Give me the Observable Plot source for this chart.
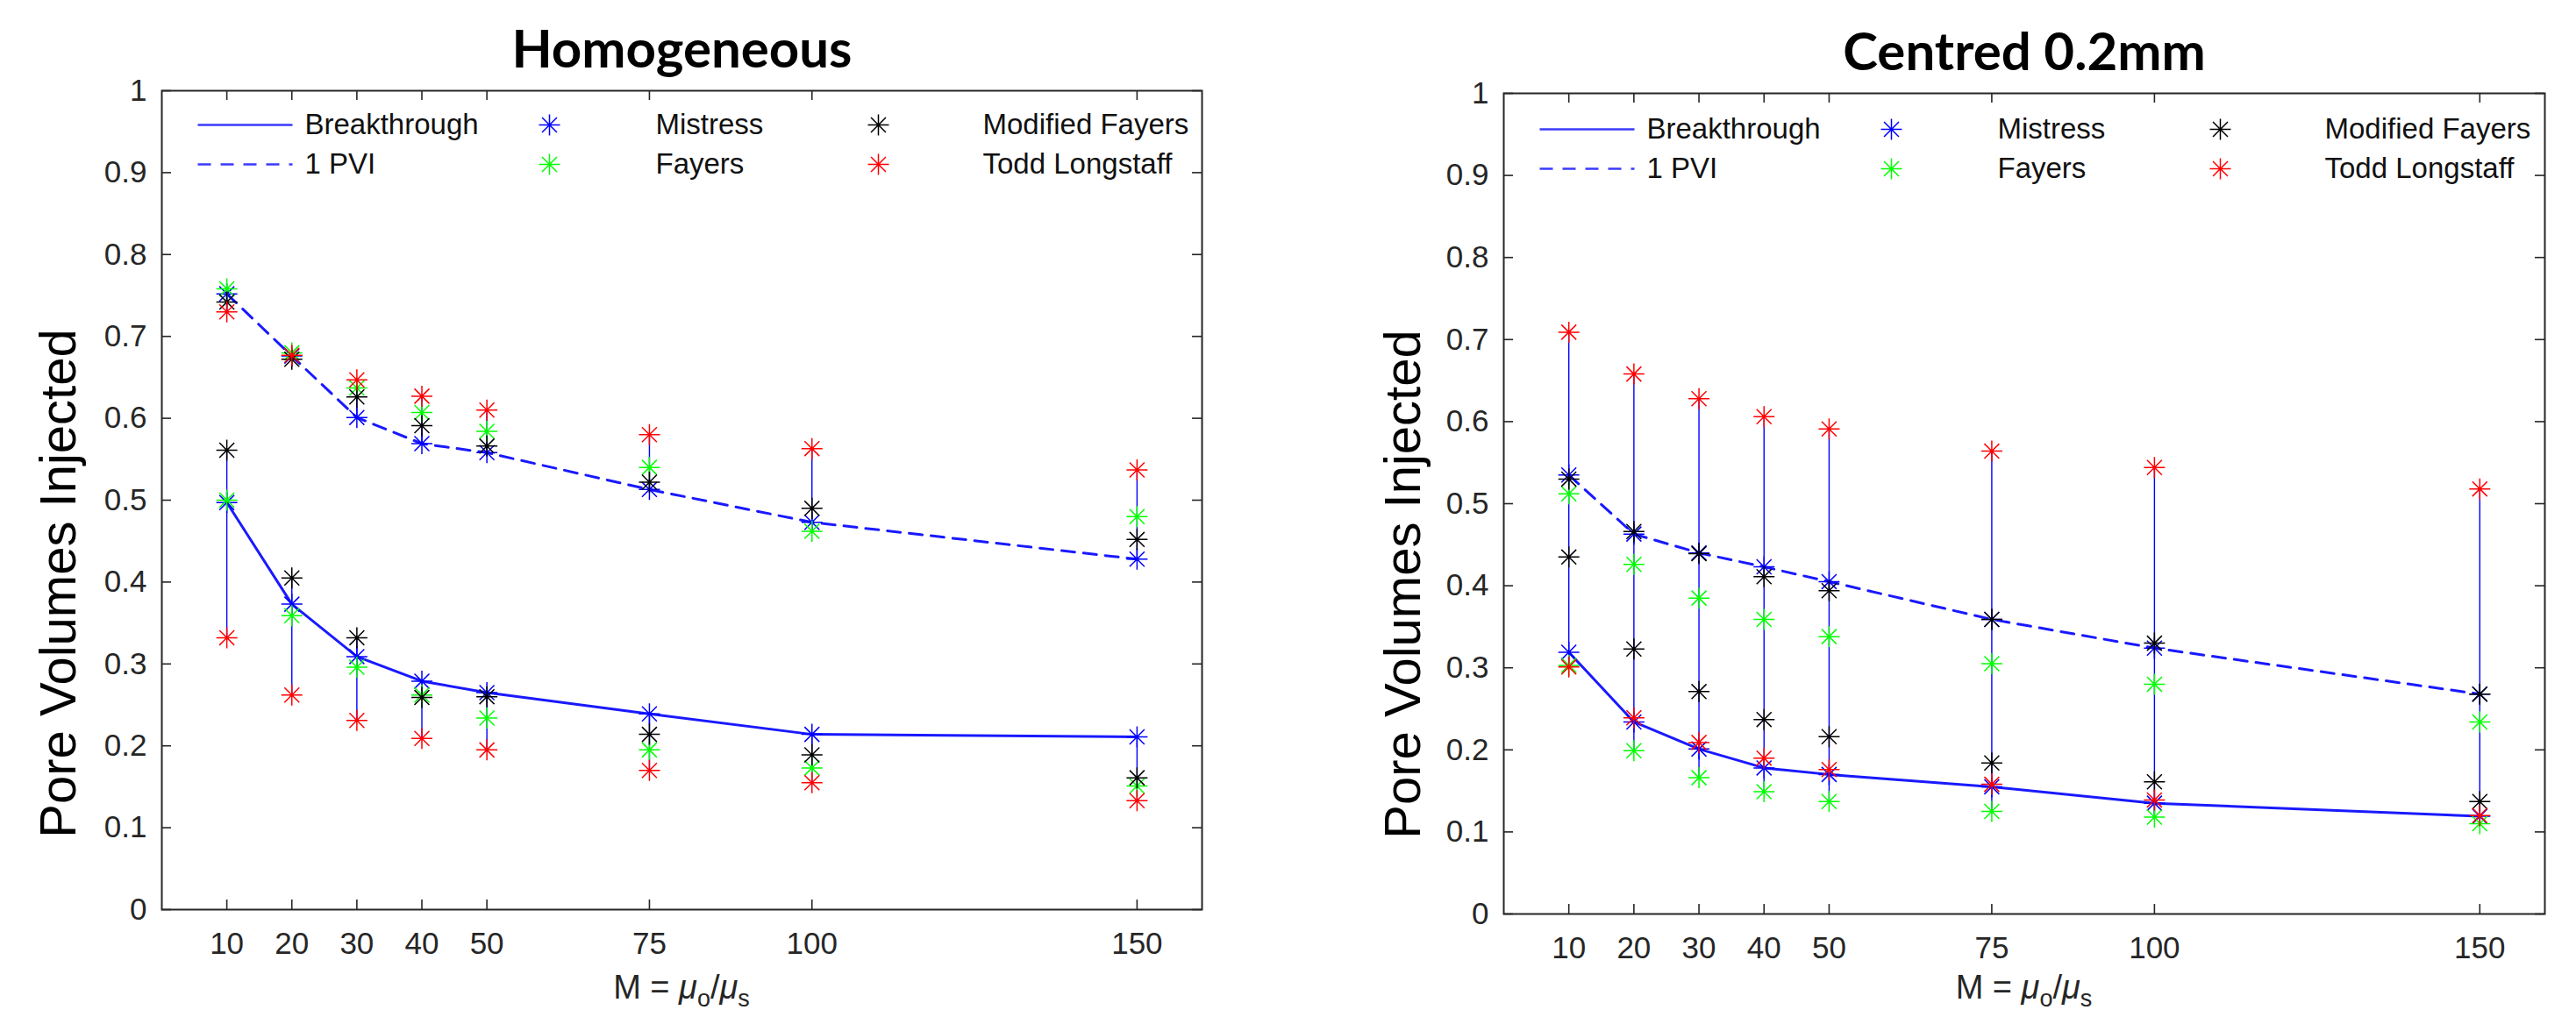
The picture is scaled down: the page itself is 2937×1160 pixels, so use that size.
<!DOCTYPE html>
<html>
<head>
<meta charset="utf-8">
<script src="https://cdn.jsdelivr.net/npm/d3@7"></script>
<script src="https://cdn.jsdelivr.net/npm/@observablehq/plot@0.6"></script>
<style>
  html, body { margin: 0; padding: 0; background: #ffffff; }
  #wrap { position: relative; width: 2937px; height: 1160px; overflow: hidden; background: #ffffff; }
  #wrap svg { position: absolute; top: 0; }
</style>
</head>
<body>
<div id="wrap"></div>
<script>
// ---------------- data ----------------
const M = [10, 20, 30, 40, 50, 75, 100, 150];
const xTicks = [10, 20, 30, 40, 50, 75, 100, 150];
const yTicks = [0, 0.1, 0.2, 0.3, 0.4, 0.5, 0.6, 0.7, 0.8, 0.9, 1];
const models = ["Mistress", "Fayers", "Modified Fayers", "Todd Longstaff"];
const legendLabels = ["Breakthrough", "1 PVI", "Mistress", "Fayers", "Modified Fayers", "Todd Longstaff"];
const panelTitles = ["Homogeneous", "Centred 0.2mm"];
const yLabel = "Pore Volumes Injected";

// Homogeneous - breakthrough
const homBtMistress  = [0.497, 0.373, 0.309, 0.279, 0.265, 0.239, 0.214, 0.211];
const homBtFayers    = [0.500, 0.359, 0.296, 0.262, 0.234, 0.195, 0.173, 0.151];
const homBtModFayers = [0.561, 0.405, 0.332, 0.259, 0.260, 0.214, 0.189, 0.161];
const homBtTodd      = [0.332, 0.262, 0.231, 0.209, 0.195, 0.170, 0.155, 0.133];
// Homogeneous - 1 PVI
const homPviMistress  = [0.752, 0.676, 0.601, 0.569, 0.558, 0.513, 0.473, 0.428];
const homPviFayers    = [0.758, 0.680, 0.637, 0.607, 0.584, 0.540, 0.462, 0.480];
const homPviModFayers = [0.742, 0.672, 0.626, 0.591, 0.566, 0.522, 0.490, 0.452];
const homPviTodd      = [0.730, 0.677, 0.647, 0.627, 0.610, 0.580, 0.563, 0.537];

// Centred 0.2mm - breakthrough
const cenBtMistress  = [0.319, 0.234, 0.201, 0.178, 0.170, 0.155, 0.135, 0.119];
const cenBtFayers    = [0.303, 0.199, 0.166, 0.149, 0.137, 0.125, 0.118, 0.110];
const cenBtModFayers = [0.435, 0.323, 0.271, 0.237, 0.216, 0.184, 0.161, 0.137];
const cenBtTodd      = [0.301, 0.239, 0.209, 0.190, 0.176, 0.158, 0.139, 0.120];
// Centred 0.2mm - 1 PVI
const cenPviMistress  = [0.535, 0.463, 0.440, 0.423, 0.405, 0.359, 0.324, 0.268];
const cenPviFayers    = [0.512, 0.426, 0.385, 0.359, 0.338, 0.305, 0.280, 0.234];
const cenPviModFayers = [0.530, 0.466, 0.439, 0.411, 0.394, 0.359, 0.330, 0.268];
const cenPviTodd      = [0.709, 0.658, 0.628, 0.606, 0.591, 0.564, 0.544, 0.518];

// ---------------- styles ----------------
const BLUE = "#0000ff";
const modelColors = {"Mistress": "#0000ff", "Fayers": "#00ff00", "Modified Fayers": "#000000", "Todd Longstaff": "#ff0000"};
const AXIS = "#262626";
const FONT = "'Liberation Sans', Arial, Helvetica, sans-serif";
const H = 1160;

// MATLAB-like '*' marker (plus + cross)
const star8 = {
  draw(ctx, size) {
    const r = Math.sqrt(size / Math.PI);
    const d = r * Math.SQRT1_2;
    ctx.moveTo(-r, 0); ctx.lineTo(r, 0);
    ctx.moveTo(0, -r); ctx.lineTo(0, r);
    ctx.moveTo(-d, -d); ctx.lineTo(d, d);
    ctx.moveTo(-d, d); ctx.lineTo(d, -d);
  }
};
const hline = len => ({ draw(ctx) { ctx.moveTo(-len / 2, 0); ctx.lineTo(len / 2, 0); } });

function buildRows(series) {
  const rows = [];
  for (const s of series) s.values.forEach((v, i) => rows.push({M: M[i], value: v, model: s.model, group: s.group}));
  return rows;
}

function panel(cfg) {
  const rows = buildRows(cfg.series);
  const groupKey = cfg.spanAll ? (() => "all") : (d => d.group);
  const ranges = d3.flatRollup(rows, v => [d3.min(v, d => d.value), d3.max(v, d => d.value)], groupKey, d => d.M)
    .map(([group, m, [lo, hi]]) => ({group, M: m, lo, hi}));
  const innerW = cfg.width - cfg.ml - cfg.mr;
  const innerH = H - cfg.mt - cfg.mb;

  const marks = [
    Plot.ruleX(ranges, {x: "M", y1: "lo", y2: "hi", stroke: BLUE, strokeWidth: 1.4}),
    Plot.line(rows.filter(d => d.model === "Mistress" && d.group === "bt"), {x: "M", y: "value", stroke: BLUE, strokeWidth: 3, strokeOpacity: 0.9}),
    Plot.line(rows.filter(d => d.model === "Mistress" && d.group === "pvi"), {x: "M", y: "value", stroke: BLUE, strokeWidth: 3, strokeOpacity: 0.9, strokeDasharray: "15,10"}),
  ];
  for (const m of models) {
    marks.push(Plot.dot(rows.filter(d => d.model === m), {x: "M", y: "value", symbol: star8, r: 12, fill: "none", stroke: modelColors[m], strokeWidth: 1.5}));
  }
  // frame and inward ticks (box on)
  marks.push(
    Plot.frame({stroke: AXIS, strokeWidth: 2}),
    Plot.tickX(xTicks, {x: d => d, insetTop: innerH - 11, stroke: AXIS, strokeWidth: 1.6}),
    Plot.tickX(xTicks, {x: d => d, insetBottom: innerH - 11, stroke: AXIS, strokeWidth: 1.6}),
    Plot.tickY(yTicks, {y: d => d, insetRight: innerW - 11, stroke: AXIS, strokeWidth: 1.6}),
    Plot.tickY(yTicks, {y: d => d, insetLeft: innerW - 11, stroke: AXIS, strokeWidth: 1.6}),
    Plot.axisX(xTicks, {anchor: "bottom", tickSize: 0, tickPadding: 26, fontSize: 35, color: AXIS, label: null, tickFormat: d => String(d)}),
    Plot.axisY(yTicks, {anchor: "left", tickSize: 0, tickPadding: 17, fontSize: 35, color: AXIS, label: null, tickFormat: d => d3.format("~g")(d)})
  );
  // title
  marks.push(Plot.text([cfg.title], {frameAnchor: "top", dy: -69, lineAnchor: "top", fontSize: 60, fontWeight: 700, fontFamily: "Lato, 'Open Sans', sans-serif", fill: "#000"}));
  // y label
  marks.push(Plot.text([yLabel], {frameAnchor: "left", rotate: -90, dx: cfg.ylabDx, dy: cfg.ylabDy, lineAnchor: "bottom", textAnchor: "middle", fontSize: 58, fill: "#000"}));
  // legend (3 columns x 2 rows inside the axes)
  const colX = [0, 401, 776];
  const rowY = [cfg.legTop, cfg.legTop + 45];
  legendLabels.forEach((lab, i) => {
    const col = Math.floor(i / 2), row = i % 2;
    const sx = colX[col] + (col === 0 ? 95 : 41);
    const tx = colX[col] + 163 - (col === 2 ? 3 : col === 1 ? 1 : 0);
    if (col === 0) {
      marks.push(Plot.dot([lab], {frameAnchor: "top-left", dx: sx, dy: rowY[row], symbol: hline(108), r: 1, fill: "none", stroke: "#3a3aff", strokeWidth: 2.6, strokeDasharray: row === 1 ? "15,11" : null}));
    } else {
      marks.push(Plot.dot([lab], {frameAnchor: "top-left", dx: sx, dy: rowY[row], symbol: star8, r: 12, fill: "none", stroke: modelColors[lab], strokeWidth: 1.5}));
    }
    marks.push(Plot.text([lab], {frameAnchor: "top-left", dx: tx, dy: rowY[row], textAnchor: "start", lineAnchor: "middle", fontSize: 33, fill: "#111"}));
  });

  const svg = Plot.plot({
    width: cfg.width, height: H,
    marginLeft: cfg.ml, marginRight: cfg.mr, marginTop: cfg.mt, marginBottom: cfg.mb,
    x: {domain: [0, 160], axis: null, label: null},
    y: {domain: [0, 1], axis: null, label: null},
    style: {fontFamily: FONT, background: "transparent", overflow: "visible", color: AXIS},
    marks
  });
  svg.style.left = cfg.left + "px";

  // x label with italic mu and subscripts
  const cx = cfg.ml + innerW / 2;
  const t = d3.select(svg).append("text")
    .attr("x", cx).attr("y", H - cfg.mb + cfg.xlabDy)
    .attr("text-anchor", "middle").attr("fill", AXIS)
    .style("font-family", FONT).style("font-size", "38px");
  t.append("tspan").text("M = ");
  t.append("tspan").style("font-style", "italic").text("\u03bc");
  t.append("tspan").attr("dy", 9).style("font-size", "27px").text("o");
  t.append("tspan").attr("dy", -9).text("/");
  t.append("tspan").style("font-style", "italic").text("\u03bc");
  t.append("tspan").attr("dy", 9).style("font-size", "27px").text("s");
  return svg;
}

const wrap = document.getElementById("wrap");
wrap.appendChild(panel({
  left: 0, width: 1468, ml: 184, mr: 98, mt: 103, mb: 123, spanAll: false,
  title: panelTitles[0], legTop: 39, ylabDx: -99, ylabDy: 95, xlabDy: 102,
  series: [
    {model: "Mistress", group: "bt", values: homBtMistress},
    {model: "Fayers", group: "bt", values: homBtFayers},
    {model: "Modified Fayers", group: "bt", values: homBtModFayers},
    {model: "Todd Longstaff", group: "bt", values: homBtTodd},
    {model: "Mistress", group: "pvi", values: homPviMistress},
    {model: "Fayers", group: "pvi", values: homPviFayers},
    {model: "Modified Fayers", group: "pvi", values: homPviModFayers},
    {model: "Todd Longstaff", group: "pvi", values: homPviTodd}
  ]
}));
wrap.appendChild(panel({
  left: 1468, width: 1469, ml: 246, mr: 36, mt: 106, mb: 118, spanAll: true,
  title: panelTitles[1], legTop: 41, ylabDx: -96, ylabDy: 92, xlabDy: 97,
  series: [
    {model: "Mistress", group: "bt", values: cenBtMistress},
    {model: "Fayers", group: "bt", values: cenBtFayers},
    {model: "Modified Fayers", group: "bt", values: cenBtModFayers},
    {model: "Todd Longstaff", group: "bt", values: cenBtTodd},
    {model: "Mistress", group: "pvi", values: cenPviMistress},
    {model: "Fayers", group: "pvi", values: cenPviFayers},
    {model: "Modified Fayers", group: "pvi", values: cenPviModFayers},
    {model: "Todd Longstaff", group: "pvi", values: cenPviTodd}
  ]
}));
</script>
</body>
</html>
